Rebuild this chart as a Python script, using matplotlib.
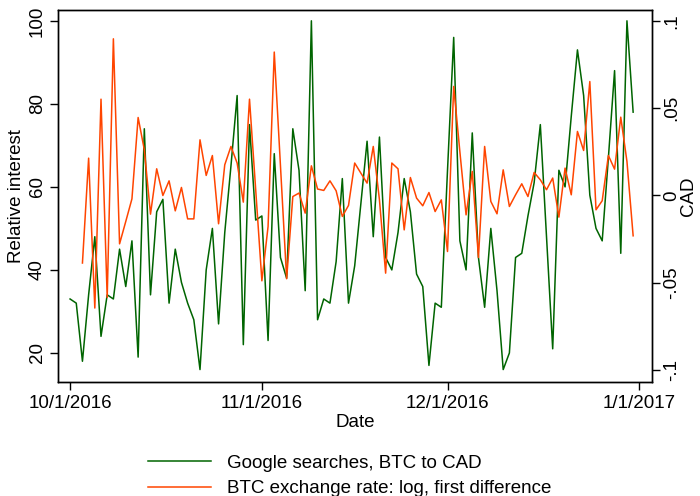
import pandas as pd
import matplotlib
matplotlib.use('Agg')
import matplotlib.pyplot as plt

plt.rcParams['font.family'] = ['Liberation Sans', 'DejaVu Sans']

# daily dates, 10/1/2016 - 12/31/2016
dates = pd.date_range('2016-10-01', '2016-12-31', freq='D')

# Google searches (relative interest)
searches = [33, 32, 18, 34, 48, 24, 34, 33, 45, 36,
            47, 19, 74, 34, 54, 57, 32, 45, 37, 32,
            28, 16, 40, 50, 27, 49, 65, 82, 22, 75,
            52, 53, 23, 68, 43, 38, 74, 64, 35, 100,
            28, 33, 32, 42, 62, 32, 41, 56, 71, 48,
            72, 43, 40, 49, 62, 54, 39, 36, 17, 32,
            31, 64, 96, 47, 40, 73, 43, 31, 50, 35,
            16, 20, 43, 44, 53, 61, 75, 48, 21, 64,
            60, 77, 93, 82, 58, 50, 47, 67, 88, 44,
            100, 78]

# BTC to CAD, log first difference (starts 10/3)
btc_diff = [None, None,
            -0.0387, 0.0214, -0.0645, 0.0552, -0.0584, 0.0898, -0.0277, -0.0149,
            -0.0019, 0.0447, 0.0262, -0.0107, 0.0153, 0.0000, 0.0084, -0.0088, 0.0046, -0.0134,
            -0.0134, 0.0319, 0.0115, 0.0229, -0.0162, 0.0176, 0.0281, 0.0186, -0.0038, 0.0552,
            0.0033, -0.0489, -0.0178, 0.0822, 0.0172, -0.0477, -0.0006, 0.0014, -0.0101, 0.0170,
            0.0037, 0.0029, 0.0084, 0.0027, -0.0120, -0.0057, 0.0186, 0.0128, 0.0071, 0.0281,
            -0.0025, -0.0445, 0.0186, 0.0153, -0.0197, 0.0103, -0.0015, -0.0059, 0.0017, -0.0092,
            -0.0025, -0.0321, 0.0625, 0.0250, -0.0111, 0.0138, -0.0355, 0.0281, -0.0034, -0.0105,
            0.0147, -0.0063, 0.0004, 0.0067, -0.0006, 0.0132, 0.0090, 0.0033, 0.0100, -0.0124,
            0.0157, 0.0004, 0.0367, 0.0258, 0.0653, -0.0082, -0.0030, 0.0229, 0.0151, 0.0449,
            0.0195, -0.0231]

xtick_dates = pd.to_datetime(['2016-10-01', '2016-11-01', '2016-12-01', '2017-01-01'])
xtick_labels = ['10/1/2016', '11/1/2016', '12/1/2016', '1/1/2017']
left_ticks = [20, 40, 60, 80, 100]
right_ticks = [-0.1, -0.05, 0, 0.05, 0.1]
right_labels = ['-.1', '-.05', '0', '.05', '.1']

fs = 13.5

fig = plt.figure(figsize=(7, 4.96), dpi=100)
ax = fig.add_axes([0.0833, 0.2298, 0.8477, 0.7500])
ax2 = ax.twinx()

l1, = ax.plot(dates, searches, color='#006400', lw=1.1,
              label='Google searches, BTC to CAD')
btc = pd.Series(btc_diff, index=dates, dtype=float)
l2, = ax2.plot(btc.index, btc.values, color='#FF4500', lw=1.1,
               label='BTC exchange rate: log, first difference')
ax2.set_zorder(ax.get_zorder() + 1)

ax.set_xlim(pd.Timestamp('2016-10-01') - pd.Timedelta(days=1.9),
            pd.Timestamp('2017-01-01') + pd.Timedelta(days=2.0))
ax.set_ylim(13.0, 102.6)
ax2.set_ylim(-0.1069, 0.1063)

ax.set_xticks(xtick_dates)
ax.set_xticklabels(xtick_labels, fontsize=fs)
ax.set_yticks(left_ticks)
ax.set_yticklabels([str(t) for t in left_ticks], rotation=90, va='center', fontsize=fs)
ax2.set_yticks(right_ticks)
ax2.set_yticklabels(right_labels, rotation=90, va='center', fontsize=fs)

ax.tick_params(length=6, width=1, direction='out', pad=3)
ax2.tick_params(length=6, width=1, direction='out', pad=2)

ax.set_xlabel('Date', fontsize=fs, labelpad=2)
ax.set_ylabel('Relative interest', fontsize=fs, labelpad=3)
ax2.set_ylabel('CAD', fontsize=fs, rotation=90, labelpad=0)

for a in (ax, ax2):
    for s in a.spines.values():
        s.set_linewidth(1.0)
        s.set_color('black')

leg = fig.legend(handles=[l1, l2], loc='upper left',
                 bbox_to_anchor=(0.200, 0.099), bbox_transform=fig.transFigure,
                 frameon=False, fontsize=fs, handlelength=3.4, handletextpad=0.85,
                 labelspacing=0.45, borderaxespad=0)

fig.savefig('out.png', dpi=100)
